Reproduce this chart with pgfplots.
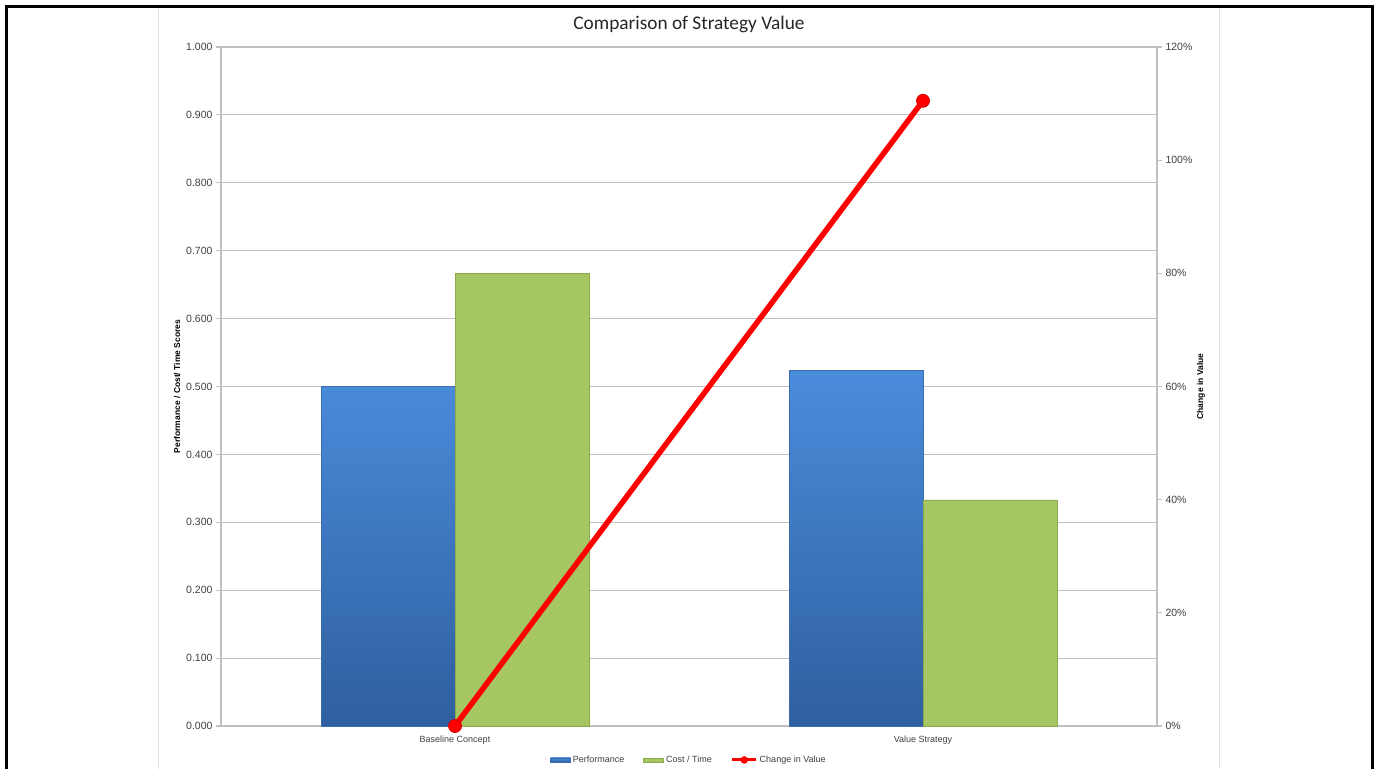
\documentclass[border=0pt]{standalone}
\usepackage{pgfplots}
\pgfplotsset{compat=1.18}
\usepackage{fontspec}
\setmainfont{Liberation Sans}
\newfontfamily\carlito{Carlito}
\definecolor{bluetop}{HTML}{4A8CDC}
\definecolor{bluebot}{HTML}{2F5F9E}
\definecolor{blueedge}{HTML}{3A6DAE}
\definecolor{greenfill}{HTML}{A6C563}
\definecolor{greenedge}{HTML}{8CA94E}
\definecolor{gridgray}{HTML}{C0C0C0}
\definecolor{txt}{HTML}{404040}
\begin{document}
\begin{tikzpicture}
\useasboundingbox (0,0) rectangle (1377bp,-769bp);
\fill[white] (0,0) rectangle (1377bp,-769bp);
% page frame and margin lines
\draw[gray!25, line width=1bp] (158bp,-7bp) -- (158bp,-769bp);
\draw[gray!25, line width=1bp] (1219bp,-7bp) -- (1219bp,-769bp);
\draw[black, line width=3bp] (6.5bp,-769bp) -- (6.5bp,-6.5bp) -- (1372.5bp,-6.5bp) -- (1372.5bp,-769bp);
\node[text=black!85] at (689bp,-24bp) {\carlito\fontsize{19.3bp}{22bp}\selectfont Comparison of Strategy Value};

\begin{axis}[
  at={(221bp,-726bp)}, anchor=south west,
  scale only axis, width=936bp, height=679bp,
  xmin=-0.5, xmax=1.5, ymin=0, ymax=1,
  ybar=0pt, bar width=134bp,
  xtick={0,1}, xticklabels={Baseline Concept, Value Strategy},
  major x tick style={draw=none},
  ytick={0,0.1,0.2,0.3,0.4,0.5,0.6,0.7,0.8,0.9,1.0},
  yticklabel style={/pgf/number format/fixed, /pgf/number format/fixed zerofill, /pgf/number format/precision=3, /pgf/number format/assume math mode=true, font=\fontsize{10.5bp}{12bp}\selectfont},
  tick label style={text=txt},
  xticklabel style={font=\fontsize{9bp}{11bp}\selectfont, yshift=-1bp},
  ymajorgrids, grid style={gridgray, line width=1.1bp},
  axis line style={gridgray, line width=1.3bp},
  axis x line*=bottom, axis y line*=left,
  tick align=outside, major tick length=5bp,
  y tick style={gridgray, line width=1.1bp},
  ylabel={Performance / Cost/ Time Scores},
  ylabel style={at={(axis description cs:-0.047,0.5)}, anchor=center, font=\bfseries\fontsize{8.5bp}{10bp}\selectfont},
  legend style={at={(axis description cs:0.5,-0.05)}, anchor=center, draw=none, fill=none,
    legend columns=3, font=\fontsize{9bp}{11bp}\selectfont, text=txt,
    /tikz/every even column/.append style={column sep=17bp}},
  legend cell align=left,
]
\addplot[draw=blueedge, top color=bluetop, bottom color=bluebot, line width=0.6bp,
  legend image code/.code={\draw[draw=blueedge, fill=bluetop] (0bp,-2bp) rectangle (20bp,2bp);}]
  coordinates {(0,0.500) (1,0.524)};
\addlegendentry{Performance}
\addplot[draw=greenedge, fill=greenfill, line width=0.6bp,
  legend image code/.code={\draw[draw=greenedge, fill=greenfill] (0bp,-2bp) rectangle (20bp,2bp);}]
  coordinates {(0,0.667) (1,0.333)};
\addlegendentry{Cost / Time}
\addlegendimage{legend image code/.code={\draw[red, line width=3bp] (0bp,0bp) -- (24bp,0bp); \fill[red] (12bp,0bp) circle (3.5bp);}}
\addlegendentry{Change in Value}
\end{axis}

\begin{axis}[
  at={(221bp,-726bp)}, anchor=south west,
  scale only axis, width=936bp, height=679bp,
  xmin=-0.5, xmax=1.5, ymin=0, ymax=120,
  axis x line=none, axis y line*=right,
  ytick={0,20,40,60,80,100,120},
  yticklabel={\pgfmathprintnumber[assume math mode=true]{\tick}\%},
  yticklabel style={text=txt, font=\fontsize{10.5bp}{12bp}\selectfont},
  axis line style={gridgray, line width=1.3bp},
  tick align=outside, major tick length=5bp,
  y tick style={gridgray, line width=1.1bp},
  ylabel={Change in Value},
  ylabel style={at={(axis description cs:1.047,0.5)}, anchor=center, font=\bfseries\fontsize{8.5bp}{10bp}\selectfont},
  clip=false,
]
\addplot[red, line width=5.5bp, mark=*, mark size=6.5bp, mark options={draw=red!85!black, line width=0.8bp, fill=red}]
  coordinates {(0,0) (1,110.5)};
\end{axis}
\end{tikzpicture}
\end{document}
